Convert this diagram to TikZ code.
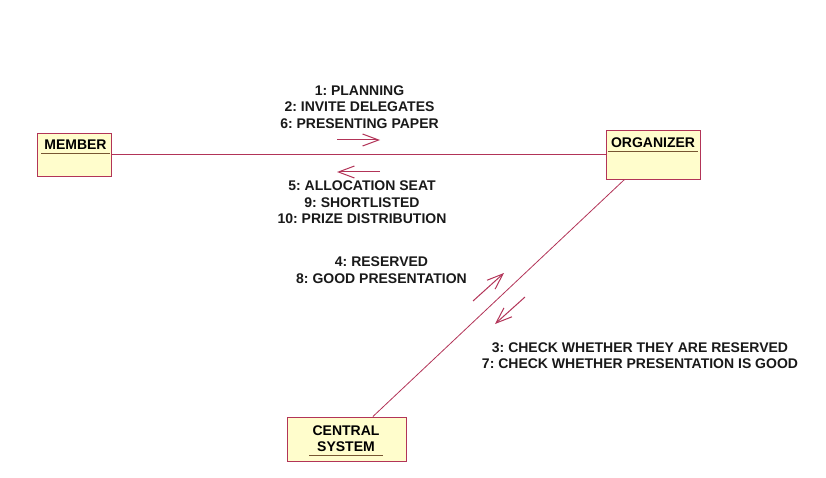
\documentclass[tikz,border=0pt]{standalone}
\usepackage{fontspec}
\setmainfont{Liberation Sans}
\usetikzlibrary{arrows.meta,calc}
\definecolor{umlline}{RGB}{178,52,88}
\definecolor{umlfill}{RGB}{255,253,204}
\definecolor{umlunder}{RGB}{120,86,50}
\frenchspacing

\begin{document}
\begin{tikzpicture}[x=1pt,y=-1pt,
    objbox/.style={draw=umlline,fill=umlfill,line width=0.9pt,inner sep=0pt},
    objname/.style={font=\fontsize{14}{16.5}\selectfont\bfseries,inner xsep=3pt,inner ysep=3pt,anchor=south,align=center},
    uline/.style={draw=umlunder,line width=0.8pt},
    msg/.style={font=\fontsize{14}{16.5}\selectfont\bfseries,inner sep=0pt,align=center,text=black!90},
    link/.style={draw=umlline,line width=0.8pt},
    msgarrow/.style={umlline,line width=1pt,-{Straight Barb[length=16pt,width=12pt]}}]
  \useasboundingbox (0,0) rectangle (826,478);
  %\draw[help lines](0,0) grid (826,478);
  \draw (74,154.5) node[objbox,minimum width=74,minimum height=43] (member) {};
  \draw (653,154.5) node[objbox,minimum width=94,minimum height=49] (organizer) {};
  \draw (346.5,439) node[objbox,minimum width=119,minimum height=44] (central) {};

  \draw (75.5,153) node[objname] (mname) {MEMBER};
  \draw (653,151) node[objname] (oname) {ORGANIZER};
  \draw (346,455) node[objname] (cname) {CENTRAL\\SYSTEM};
  \draw[uline] (mname.south west)--(mname.south east);
  \draw[uline] (oname.south west)--(oname.south east);
  \draw[uline] (cname.south west)--(cname.south east);

  \draw[link] (member.east)--(organizer.west);
  \draw[link] ($(organizer.south west)!0.2!(organizer.south east)$)--($(central.north west)!0.72!(central.north east)$);

  \draw (359.5,107) node[msg] (m1) {1: PLANNING\\2: INVITE DELEGATES\\6: PRESENTING PAPER};
  \draw (362,202.5) node[msg] (m5) {5: ALLOCATION SEAT\\9: SHORTLISTED\\10: PRIZE DISTRIBUTION};
  \draw (381.5,270) node[msg] (m4) {4: RESERVED\\8: GOOD PRESENTATION};
  \draw (640,355.5) node[msg] (m3) {3: CHECK WHETHER THEY ARE RESERVED\\7: CHECK WHETHER PRESENTATION IS GOOD};

  \coordinate (a1s) at (337,140);
  \coordinate (a1e) at (380,140);
  \coordinate (a5s) at (380,172);
  \coordinate (a5e) at (337,172);
  \coordinate (a4s) at (473,301);
  \coordinate (a4e) at (504,273);
  \coordinate (a3s) at (525,297);
  \coordinate (a3e) at (495,324);
  \draw[msgarrow] (a1s)--(a1e);
  \draw[msgarrow] (a5s)--(a5e);
  \draw[msgarrow] (a4s)--(a4e);
  \draw[msgarrow] (a3s)--(a3e);
\end{tikzpicture}
\end{document}
